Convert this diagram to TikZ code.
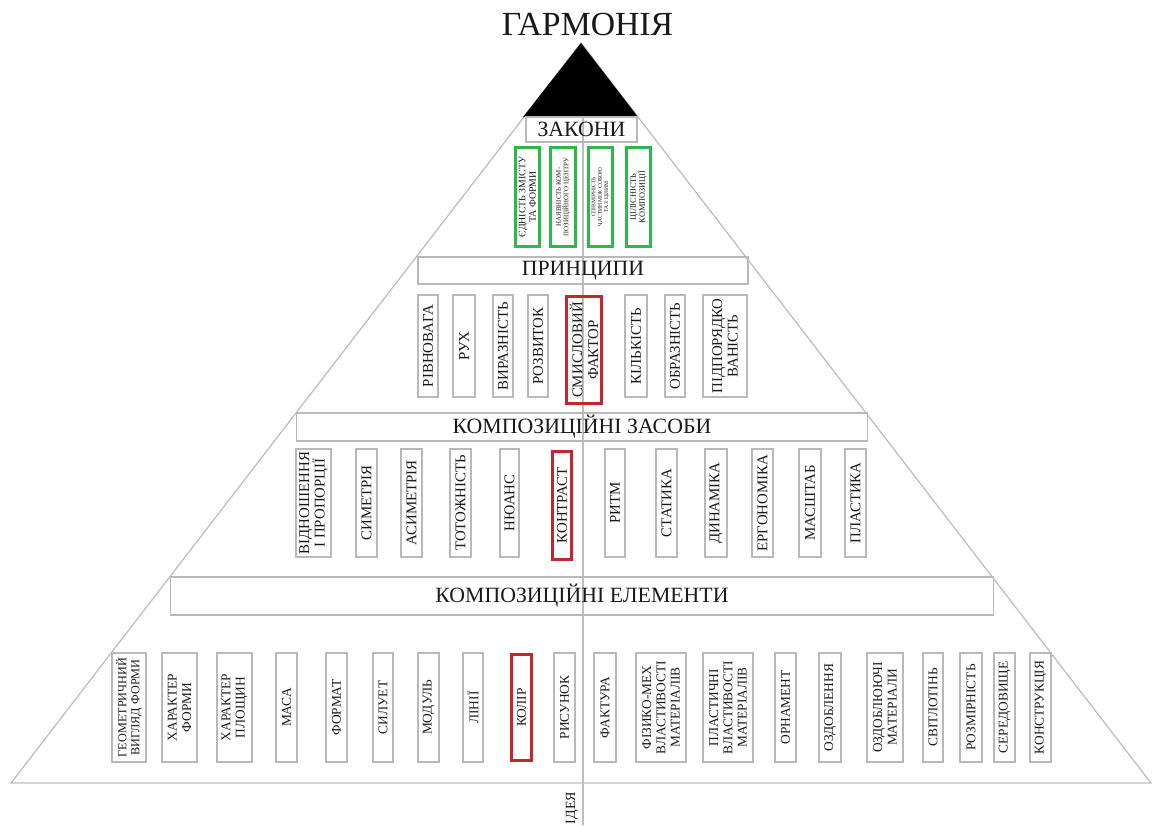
\documentclass[tikz,border=0pt]{standalone}
\usepackage{fontspec}
\setmainfont{Liberation Serif}
\definecolor{linegrey}{RGB}{190,190,190}
\definecolor{boxgrey}{RGB}{185,185,185}
\definecolor{keyred}{RGB}{196,38,46}
\definecolor{lawgreen}{RGB}{45,184,75}
\definecolor{ink}{RGB}{25,25,25}
\begin{document}
\begin{tikzpicture}[x=0.025cm, y=-0.025cm,
    bar/.style={draw=boxgrey, line width=0.8pt, inner sep=0pt, text=ink, font=\fontsize{15.5}{15.5}\selectfont},
    vbox/.style={draw=boxgrey, line width=0.8pt, rotate=90, align=center, inner sep=0pt, text=ink, minimum height=0.525cm},
    law/.style={vbox, draw=lawgreen, line width=2.2pt, minimum width=2.475cm, minimum height=0.6cm},
    prin/.style={vbox, minimum width=2.55cm, font=\fontsize{10.6}{11.1}\selectfont},
    mean/.style={vbox, minimum width=2.7cm, font=\fontsize{10.6}{11}\selectfont},
    elem/.style={vbox, minimum width=2.725cm, font=\fontsize{9.5}{10.2}\selectfont},
    key/.style={draw=keyred, line width=2pt}]
    \useasboundingbox (0,0) rectangle (1152,825);

    % pyramid
    \coordinate (apex) at (581,43);
    \coordinate (bl) at (11,783);
    \coordinate (br) at (1151,783);
    \coordinate (top) at (583,117);
    \coordinate (foot) at (583,825);
    \path[draw=linegrey,line width=0.9pt] (apex) -- (bl) -- (br) -- cycle;
    \path[draw=linegrey,line width=0.9pt] (top) -- (foot);
    \fill[black] (apex) -- (523,117) -- (638,117) -- cycle;

    \node[font=\fontsize{24}{24}\selectfont, anchor=base, text=ink] (harm) at (587.5,35) {ГАРМОНІЯ};
    \node[rotate=90, font=\fontsize{10}{10}\selectfont, text=ink] (idea) at (572,808) {ІДЕЯ};

    % laws
    \node[bar, minimum width=2.775cm, minimum height=0.625cm] (laws) at (581.5,129.5) {ЗАКОНИ};
    \node[law, font=\fontsize{7}{7.5}\selectfont] (l1) at (527.5,197) {ЄДНІСТЬ ЗМІСТУ\\ТА ФОРМИ};
    \node[law, minimum height=0.625cm, font=\fontsize{4.9}{5.4}\selectfont] (l2) at (563,197) {НАЯВНІСТЬ КОМ-\\ПОЗИЦІЙНОГО ЦЕНТРУ};
    \node[law, font=\fontsize{4}{4.6}\selectfont] (l3) at (600.5,197) {СПІВМІРНІСТЬ\\ЧАСТИН МІЖ СОБОЮ\\ТА З ЦІЛИМ};
    \node[law, font=\fontsize{5.9}{6.4}\selectfont] (l4) at (638.5,197) {ЦІЛІСНІСТЬ\\КОМПОЗИЦІЇ};

    % principles
    \node[bar, minimum width=8.25cm, minimum height=0.675cm] (prins) at (583,270.5) {ПРИНЦИПИ};
    \node[prin, minimum height=0.5cm] (p1) at (428,346) {РІВНОВАГА};
    \node[prin, minimum height=0.55cm] (p2) at (464,346) {РУХ};
    \node[prin, minimum height=0.5cm] (p3) at (503,346) {ВИРАЗНІСТЬ};
    \node[prin, minimum height=0.5cm] (p4) at (538,346) {РОЗВИТОК};
    \node[prin, key, minimum width=2.675cm, minimum height=0.875cm] (p5) at (584,350) {СМИСЛОВИЙ\\ФАКТОР};
    \node[prin, minimum height=0.55cm] (p6) at (636,346) {КІЛЬКІСТЬ};
    \node[prin, minimum height=0.5cm] (p7) at (675,346) {ОБРАЗНІСТЬ};
    \node[prin, minimum height=1.1cm] (p8) at (725,346) {ПІДПОРЯДКО\\ВАНІСТЬ};

    % means
    \node[bar, minimum width=14.25cm, minimum height=0.7cm] (means) at (582,427) {КОМПОЗИЦІЙНІ ЗАСОБИ};
    \node[mean, minimum height=0.875cm] (m1) at (313.5,503) {ВІДНОШЕННЯ\\І ПРОПОРЦІЇ};
    \node[mean] (m2) at (366.5,503) {СИМЕТРІЯ};
    \node[mean] (m3) at (411.5,503) {АСИМЕТРІЯ};
    \node[mean] (m4) at (460.5,503) {ТОТОЖНІСТЬ};
    \node[mean, minimum height=0.475cm] (m5) at (509.5,503) {НЮАНС};
    \node[mean, key, minimum width=2.7cm, minimum height=0.475cm] (m6) at (562,505.5) {КОНТРАСТ};
    \node[mean, minimum height=0.5cm] (m7) at (615,503) {РИТМ};
    \node[mean] (m8) at (666.5,503) {СТАТИКА};
    \node[mean, minimum height=0.55cm] (m9) at (716,503) {ДИНАМІКА};
    \node[mean] (m10) at (762.5,503) {ЕРГОНОМІКА};
    \node[mean, minimum height=0.55cm] (m11) at (810,503) {МАСШТАБ};
    \node[mean] (m12) at (855.5,503) {ПЛАСТИКА};

    % elements
    \node[bar, minimum width=20.55cm, minimum height=0.95cm] (elems) at (582,596) {КОМПОЗИЦІЙНІ ЕЛЕМЕНТИ};
    \node[elem, minimum height=0.85cm, font=\fontsize{8.7}{9.4}\selectfont] (e1) at (129,707.5) {ГЕОМЕТРИЧНИЙ\\ВИГЛЯД ФОРМИ};
    \node[elem, minimum height=0.875cm] (e2) at (179.5,707.5) {ХАРАКТЕР\\ФОРМИ};
    \node[elem, minimum height=0.875cm] (e3) at (234.5,707.5) {ХАРАКТЕР\\ПЛОЩИН};
    \node[elem] (e4) at (286.5,707.5) {МАСА};
    \node[elem] (e5) at (336.5,707.5) {ФОРМАТ};
    \node[elem, minimum height=0.5cm] (e6) at (383,707.5) {СИЛУЕТ};
    \node[elem] (e7) at (428.5,707.5) {МОДУЛЬ};
    \node[elem, minimum height=0.5cm] (e8) at (473,707.5) {ЛІНІЇ};
    \node[elem, key, minimum width=2.65cm, minimum height=0.5cm] (e9) at (521.5,707.5) {КОЛІР};
    \node[elem] (e10) at (564.5,707.5) {РИСУНОК};
    \node[elem, minimum height=0.55cm] (e11) at (605,707.5) {ФАКТУРА};
    \node[elem, minimum height=1.25cm] (e12) at (661,707.5) {ФІЗИКО-МЕХ\\ВЛАСТИВОСТІ\\МАТЕРІАЛІВ};
    \node[elem, minimum height=1.25cm] (e13) at (728,707.5) {ПЛАСТИЧНІ\\ВЛАСТИВОСТІ\\МАТЕРІАЛІВ};
    \node[elem] (e14) at (785.5,707.5) {ОРНАМЕНТ};
    \node[elem, minimum height=0.55cm] (e15) at (830,707.5) {ОЗДОБЛЕННЯ};
    \node[elem, minimum height=0.9cm] (e16) at (885,707.5) {ОЗДОБЛЮЮЧІ\\МАТЕРІАЛИ};
    \node[elem, minimum height=0.5cm] (e17) at (933,707.5) {СВІТЛОТІНЬ};
    \node[elem, minimum height=0.55cm] (e18) at (971,707.5) {РОЗМІРНІСТЬ};
    \node[elem] (e19) at (1004.5,707.5) {СЕРЕДОВИЩЕ};
    \node[elem] (e20) at (1040.5,707.5) {КОНСТРУКЦІЯ};
\end{tikzpicture}
\end{document}
